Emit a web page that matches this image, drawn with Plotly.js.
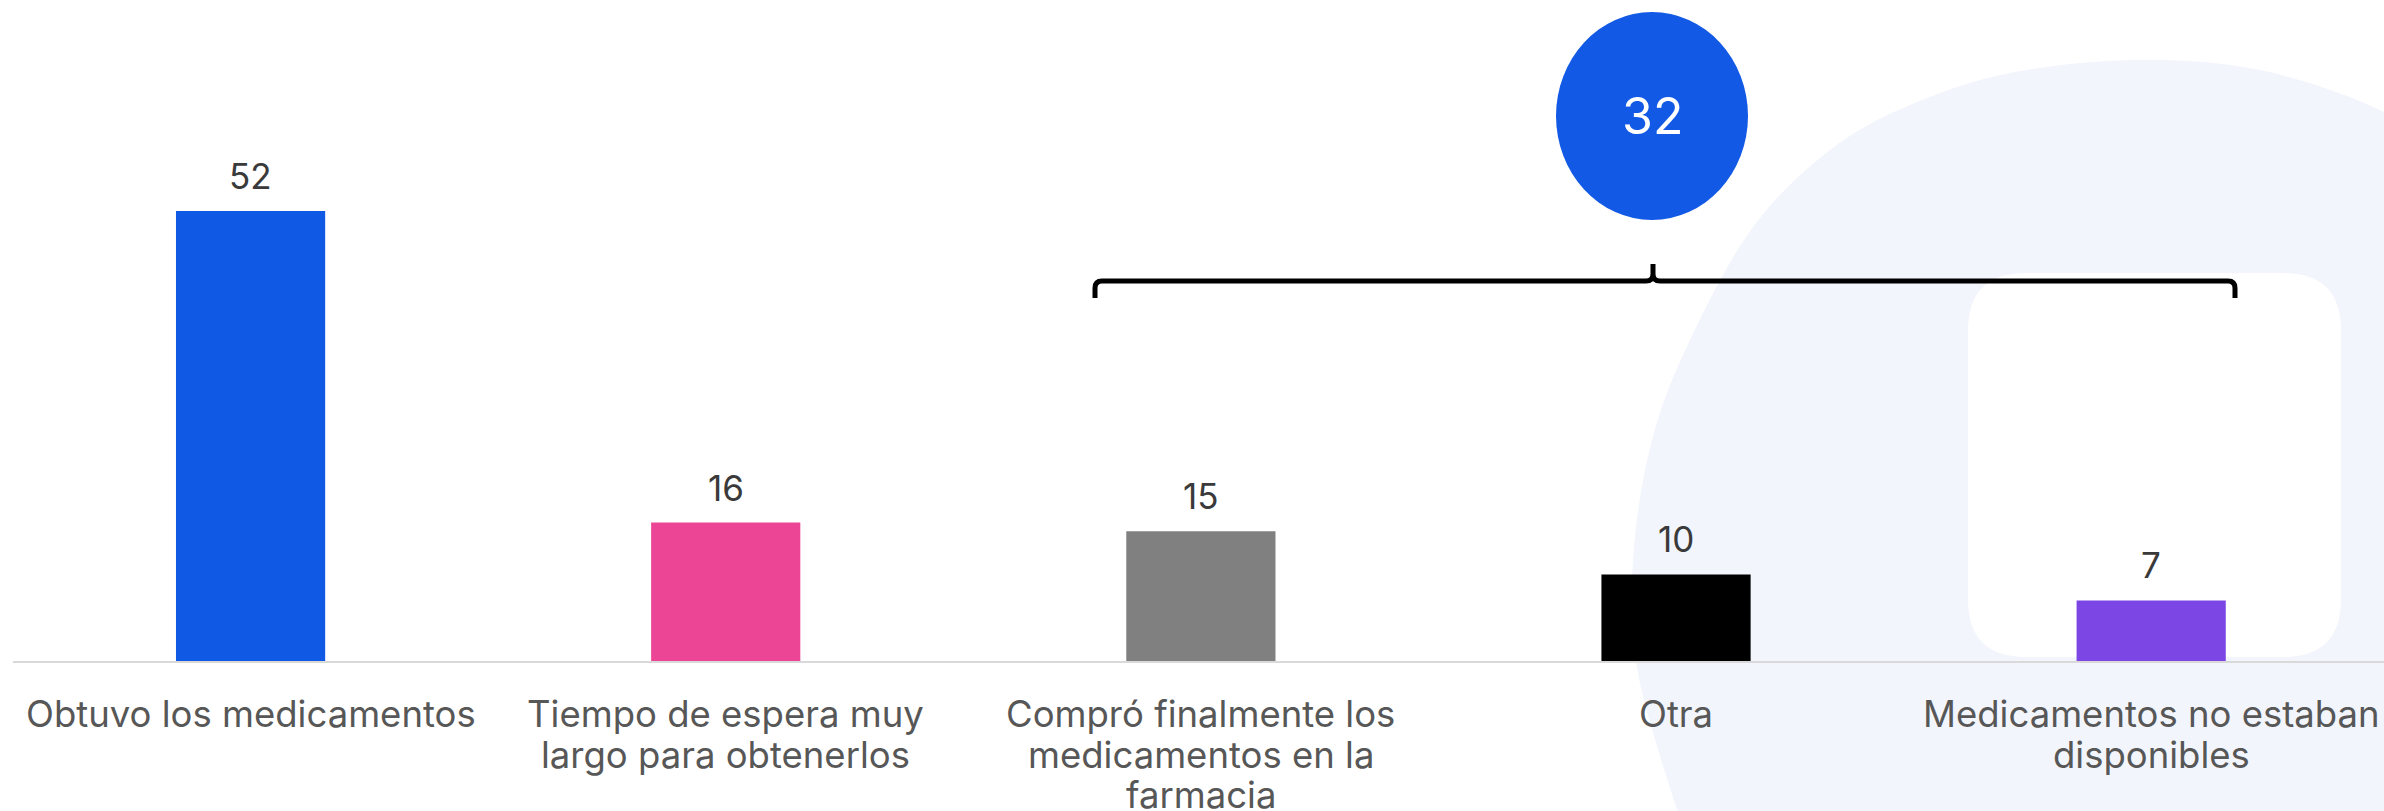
<!DOCTYPE html>
<html><head><meta charset="utf-8">
<script src="https://cdn.plot.ly/plotly-3.0.1.min.js"></script>
<style>html,body{margin:0;padding:0;background:#fff;overflow:hidden;} #chart{width:2384px;height:811px;}</style>
</head><body><div id="chart"></div>
<script>
// ---- data ----
const categories = ["Obtuvo los medicamentos", "Tiempo de espera muy largo para obtenerlos", "Compró finalmente los medicamentos en la farmacia", "Otra", "Medicamentos no estaban disponibles"];
const tickLabels = ["Obtuvo los medicamentos", "Tiempo de espera muy<br>largo para obtenerlos", "Compró finalmente los<br>medicamentos en la<br>farmacia", "Otra", "Medicamentos no estaban<br>disponibles"];
const values = [52, 16, 15, 10, 7];
const barColors = ["#1059E5", "#EC4595", "#808080", "#000000", "#7B46E3"];
const groupTotalLabel = "32";

// ---- layout geometry ----
const W = 2384, H = 811;
const M = {l: 13, r: 0, t: 0, b: 150};
const PW = W - M.l - M.r, PH = H - M.t - M.b;
const px2x = px => (px - M.l) / PW;
const py2y = py => (M.t + PH - py) / PH;
const FONT = "Inter, 'Open Sans', sans-serif";
const P = (x, y) => px2x(x).toFixed(6) + "," + py2y(y).toFixed(6);

function roundRectPath(x0, y0, x1, y1, r) {
  return "M" + P(x0 + r, y0) + " L" + P(x1 - r, y0) + " Q" + P(x1, y0) + " " + P(x1, y0 + r) +
    " L" + P(x1, y1 - r) + " Q" + P(x1, y1) + " " + P(x1 - r, y1) +
    " L" + P(x0 + r, y1) + " Q" + P(x0, y1) + " " + P(x0, y1 - r) +
    " L" + P(x0, y0 + r) + " Q" + P(x0, y0) + " " + P(x0 + r, y0) + " Z";
}
function bracketPath() {
  const yl = 281, ye = 298, xl = 1095, xr = 2235, xc = 1653, yt = 264, r = 7;
  return "M" + P(xl, ye) + " L" + P(xl, yl + r) + " Q" + P(xl, yl) + " " + P(xl + r, yl) +
    " L" + P(xc - r, yl) + " Q" + P(xc, yl) + " " + P(xc, yl - r) + " L" + P(xc, yt) +
    " M" + P(xc, yl - r) + " Q" + P(xc, yl) + " " + P(xc + r, yl) +
    " L" + P(xr - r, yl) + " Q" + P(xr, yl) + " " + P(xr, yl + r) + " L" + P(xr, ye);
}
// decorative background arc (smooth curve through outline points, Catmull-Rom)
function smoothPath(pts) {
  let d = "M" + P(pts[0][0], pts[0][1]);
  for (let i = 0; i < pts.length - 1; i++) {
    const p0 = pts[Math.max(i - 1, 0)], p1 = pts[i], p2 = pts[i + 1], p3 = pts[Math.min(i + 2, pts.length - 1)];
    const c1 = [p1[0] + (p2[0] - p0[0]) / 6, p1[1] + (p2[1] - p0[1]) / 6];
    const c2 = [p2[0] - (p3[0] - p1[0]) / 6, p2[1] - (p3[1] - p1[1]) / 6];
    d += " C" + P(c1[0], c1[1]) + " " + P(c2[0], c2[1]) + " " + P(p2[0], p2[1]);
  }
  return d;
}
const arcOutline = [[1680, 820], [1638, 673], [1633, 560], [1652, 440], [1690, 340], [1753, 227],
  [1830, 150], [1910, 105], [2010, 73], [2136, 60], [2260, 70], [2384, 112], [2460, 170]];
const arcPath = smoothPath(arcOutline) + " L" + P(2460, 820) + " Z";

const trace = {
  type: "bar",
  x: categories,
  y: values,
  marker: {color: barColors},
  width: 0.314,
  hoverinfo: "skip",
  showlegend: false
};

const annotations = categories.map((c, i) => ({
  x: c, y: values[i], xref: "x", yref: "y",
  text: String(values[i]), showarrow: false,
  yanchor: "middle", yshift: 35,
  font: {family: FONT, size: 35, color: "#3a3a3a"}
}));
// category labels, one annotation per line for tighter line spacing
categories.forEach((c, i) => {
  tickLabels[i].split("<br>").forEach((line, k) => {
    annotations.push({
      x: c, y: 0, xref: "x", yref: "paper",
      text: line, showarrow: false, xanchor: "center", yanchor: "middle",
      yshift: -(53 + k * 40.5),
      font: {family: FONT, size: 36.5, color: "#575757"}
    });
  });
});
annotations.push({
  x: px2x(1652), y: py2y(116), xref: "paper", yref: "paper",
  text: groupTotalLabel, showarrow: false, xanchor: "center", yanchor: "middle",
  font: {family: FONT, size: 50, color: "#ffffff"}
});

const shapes = [
  {type: "path", xref: "paper", yref: "paper", layer: "below",
   path: arcPath, fillcolor: "#F3F5FC", line: {width: 0}},
  {type: "path", xref: "paper", yref: "paper", layer: "below",
   path: roundRectPath(1968, 273, 2341, 657, 58),
   fillcolor: "#ffffff", line: {width: 0}},
  {type: "path", xref: "paper", yref: "paper", layer: "above",
   path: bracketPath(), line: {color: "#000000", width: 5}},
  {type: "circle", xref: "paper", yref: "paper", layer: "above",
   x0: px2x(1556), x1: px2x(1748), y0: py2y(220), y1: py2y(12),
   fillcolor: "#1259E5", line: {width: 0}}
];

const layout = {
  width: W, height: H,
  margin: M,
  paper_bgcolor: "#ffffff",
  plot_bgcolor: "rgba(0,0,0,0)",
  bargap: 0.686,
  xaxis: {
    type: "category", range: [-0.5, 4.49],
    showline: true, linecolor: "#d9d9d9", linewidth: 2,
    showgrid: false, zeroline: false, ticks: "", showticklabels: false,
    fixedrange: true
  },
  yaxis: {range: [0, PH / 8.654], visible: false, showgrid: false, zeroline: false, fixedrange: true},
  shapes: shapes,
  annotations: annotations,
  showlegend: false
};

Plotly.newPlot("chart", [trace], layout, {displayModeBar: false, staticPlot: true});
</script>
</body></html>
